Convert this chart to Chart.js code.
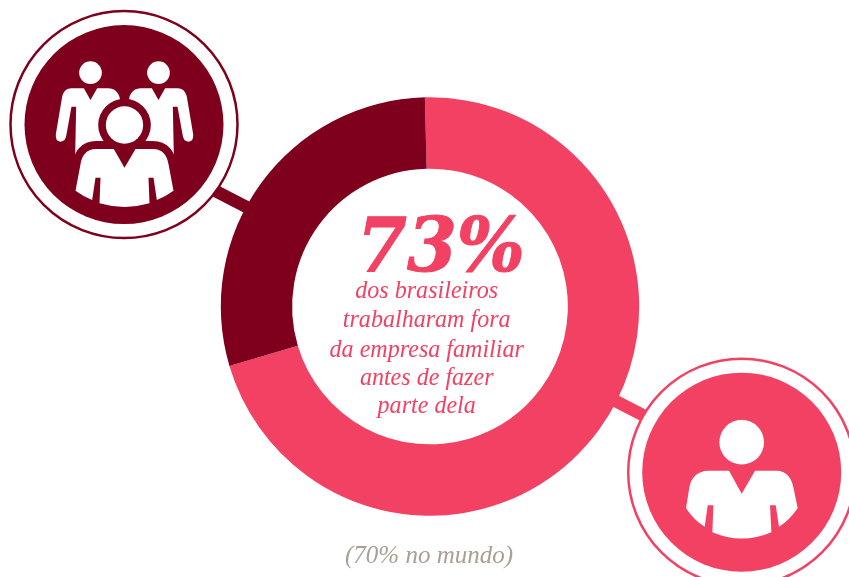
<!DOCTYPE html>
<html><head><meta charset="utf-8">
<style>html,body{margin:0;padding:0;background:#fff;overflow:hidden}#w{position:relative;width:849px;height:577px}canvas{display:block}</style>
<script src="https://cdn.jsdelivr.net/npm/chart.js@4"></script>
</head><body><div id="w"><canvas id="c" width="849" height="577"></canvas></div>
<script>
const categories = ["Trabalharam fora da empresa familiar", "Não trabalharam fora"];
const shareValues = [70.8, 29.2];
const sliceColors = ["#f24163", "#7e001c"];
const headline = "73%";
const bodyLines = ["dos brasileiros", "trabalharam fora", "da empresa familiar", "antes de fazer", "parte dela"];
const footnote = "(70% no mundo)";

const PINK = sliceColors[0], DARK = sliceColors[1];

function bodyPath(ctx){
  ctx.beginPath();
  ctx.moveTo(-32,72);ctx.lineTo(0,128);ctx.lineTo(33,72);ctx.lineTo(85,72);
  ctx.bezierCurveTo(115,72,128,92,132,118);
  ctx.lineTo(147,197);ctx.quadraticCurveTo(124,214,97,225);
  ctx.lineTo(87,158);ctx.lineTo(72,158);ctx.lineTo(75,235);
  ctx.quadraticCurveTo(0,257,-75,235);
  ctx.lineTo(-72,158);ctx.lineTo(-87,158);ctx.lineTo(-97,225);
  ctx.quadraticCurveTo(-124,214,-147,197);
  ctx.lineTo(-132,118);ctx.bezierCurveTo(-128,92,-115,72,-85,72);
  ctx.closePath();
}
function smallPerson(ctx,ox,mirror){
  ctx.save();ctx.translate(ox,0);if(mirror)ctx.scale(-1,1);
  ctx.fillStyle='#fff';
  ctx.beginPath();ctx.arc(0,-157,34,0,Math.PI*2);ctx.fill();
  ctx.beginPath();
  ctx.moveTo(-20,-110);ctx.lineTo(0,-75);ctx.lineTo(20,-110);ctx.lineTo(53,-110);
  ctx.bezierCurveTo(72,-110,84,-98,88,-80);
  ctx.lineTo(100,90);ctx.lineTo(-46,90);ctx.lineTo(-43,-55);ctx.lineTo(-57,-55);
  ctx.lineTo(-72,28);ctx.quadraticCurveTo(-74,50,-90,50);ctx.quadraticCurveTo(-106,50,-104,28);
  ctx.lineTo(-85,-85);ctx.bezierCurveTo(-80,-102,-72,-110,-57,-110);
  ctx.closePath();ctx.fill();
  ctx.restore();
}
function groupIcon(ctx,cx,cy){
  ctx.save();ctx.translate(cx,cy);ctx.scale(1/3,1/3);
  smallPerson(ctx,-102,false);smallPerson(ctx,102,true);
  ctx.fillStyle=DARK;ctx.beginPath();ctx.arc(0,0,79,0,Math.PI*2);ctx.fill();
  ctx.strokeStyle=DARK;ctx.lineWidth=48;ctx.lineJoin='round';
  bodyPath(ctx);ctx.stroke();
  ctx.fillStyle='#fff';bodyPath(ctx);ctx.fill();
  ctx.beginPath();ctx.arc(0,0,56,0,Math.PI*2);ctx.fill();
  ctx.restore();
}
function singleIcon(ctx,cx,cy){
  ctx.save();ctx.translate(cx,cy);ctx.scale(1/3,1/3);
  ctx.fillStyle='#fff';
  ctx.beginPath();ctx.arc(0,-90,67,0,Math.PI*2);ctx.fill();
  ctx.beginPath();
  ctx.moveTo(-38,-4);ctx.lineTo(0,65);ctx.lineTo(40,-4);ctx.lineTo(105,-4);
  ctx.bezierCurveTo(135,-4,150,20,155,45);
  ctx.lineTo(168,108);ctx.quadraticCurveTo(142,145,112,164);
  ctx.lineTo(102,99);ctx.lineTo(85,99);ctx.lineTo(89,180);
  ctx.quadraticCurveTo(0,218,-88,180);
  ctx.lineTo(-85,99);ctx.lineTo(-102,99);ctx.lineTo(-111,164);
  ctx.quadraticCurveTo(-142,145,-167,108);
  ctx.lineTo(-157,45);ctx.bezierCurveTo(-152,20,-135,-4,-100,-4);
  ctx.closePath();ctx.fill();
  ctx.restore();
}
function badge(ctx,cx,cy,color){
  ctx.fillStyle='#fff';ctx.strokeStyle=color;ctx.lineWidth=2.5;
  ctx.beginPath();ctx.arc(cx,cy,113.5,0,Math.PI*2);ctx.fill();ctx.stroke();
  ctx.fillStyle=color;ctx.beginPath();ctx.arc(cx,cy,99.5,0,Math.PI*2);ctx.fill();
}
function connector(ctx,x1,y1,x2,y2,color){
  ctx.strokeStyle=color;ctx.lineWidth=12.5;ctx.lineCap='butt';
  ctx.beginPath();ctx.moveTo(x1,y1);ctx.lineTo(x2,y2);ctx.stroke();
}
const decor = {
  id:'decor',
  beforeDatasetsDraw(chart){
    const ctx=chart.ctx;ctx.save();
    connector(ctx,200,183,260,214,DARK);
    connector(ctx,600,393,660,424,PINK);
    ctx.restore();
  },
  afterDatasetsDraw(chart){
    const ctx=chart.ctx;ctx.save();
    badge(ctx,124,124.6,DARK);groupIcon(ctx,124.5,125);
    badge(ctx,741.7,472.2,PINK);singleIcon(ctx,741.7,472.2);
    ctx.fillStyle=PINK;ctx.strokeStyle=PINK;ctx.textAlign='center';ctx.textBaseline='alphabetic';
    ctx.save();ctx.translate(441,270.7);ctx.scale(0.97,1);
    ctx.font='italic bold 74px "DejaVu Serif", monospace';ctx.lineWidth=1;ctx.fillText(headline,0,0);ctx.strokeText(headline,0,0);ctx.restore();
    const ys=[298,327,356.5,385,413];
    bodyLines.forEach((t,i)=>{
      ctx.save();ctx.translate(426.7,ys[i]);ctx.scale(0.94,1);
      ctx.font='italic 25.6px "Liberation Serif", serif';ctx.fillText(t,0,0);ctx.restore();
    });
    ctx.fillStyle='#a99f95';ctx.font='italic 25px "Liberation Serif", serif';
    ctx.fillText(footnote,429,563);
    ctx.restore();
  }
};
new Chart(document.getElementById('c'),{
  type:'doughnut',
  data:{labels:categories,datasets:[{data:shareValues,backgroundColor:sliceColors,borderWidth:0}]},
  options:{
    responsive:false,animation:false,
    rotation:-1.4,cutout:'65.9%',
    layout:{padding:{left:220.8,right:209.8,top:97.3,bottom:61.3}},
    plugins:{legend:{display:false},tooltip:{enabled:false}}
  },
  plugins:[decor]
});
</script></body></html>
